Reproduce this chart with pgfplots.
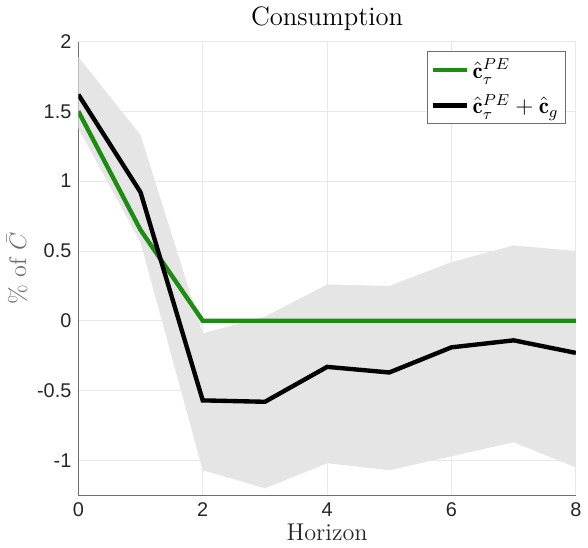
\documentclass[border=0pt]{standalone}
\usepackage{pgfplots}
\pgfplotsset{compat=1.18}
\usepackage{fontspec}
\newfontfamily\ticksf{Liberation Sans}
\definecolor{mygreen}{RGB}{30,140,20}
\definecolor{band}{RGB}{229,229,229}
\definecolor{axgray}{RGB}{110,110,110}
\definecolor{tickc}{RGB}{38,38,38}
\begin{document}
\begin{tikzpicture}
\begin{axis}[
  scale only axis,
  width=250.5pt, height=228.5pt,
  xmin=0, xmax=8, ymin=-1.25, ymax=2,
  xtick={0,2,4,6,8},
  ytick={-1,-0.5,0,0.5,1,1.5,2},
  yticklabels={-1,-0.5,0,0.5,1,1.5,2},
  xticklabels={0,2,4,6,8},
  ticklabel style={font=\ticksf\fontsize{10}{12}\selectfont, text=tickc},
  axis x line*=bottom, axis y line*=left,
  axis line style={axgray, -},
  major tick length=0pt,
  grid=major,
  major grid style={gray!18, line width=0.4pt},
  title={\fontsize{13.4}{15}\selectfont Consumption},
  title style={yshift=-4pt},
  xlabel={\fontsize{12.2}{14}\selectfont Horizon},
  ylabel={\fontsize{12.2}{14}\selectfont \% of $\bar{C}$},
  xlabel style={text=tickc, yshift=3pt},
  ylabel style={text=axgray, yshift=-2pt},
  legend style={at={(1,1)}, anchor=north east, xshift=-5pt, yshift=-5pt,
    draw=axgray, font=\fontsize{11.5}{13}\selectfont, row sep=2.5pt, inner sep=1.5pt},
  legend cell align=left,
  legend image post style={line width=2.2pt},
  legend image code/.code={\draw[#1] (0cm,0cm) -- (0.6cm,0cm);},
]
\addplot[fill=band, draw=none, forget plot] coordinates {
 (0,1.89) (1,1.33) (2,-0.09) (3,0.03) (4,0.26) (5,0.25) (6,0.42) (7,0.54) (8,0.50)
 (8,-1.05) (7,-0.87) (6,-0.97) (5,-1.07) (4,-1.02) (3,-1.20) (2,-1.07) (1,0.56) (0,1.38)
} -- cycle;
\addplot[mygreen, line width=2.2pt] coordinates {
 (0,1.50) (1,0.65) (2,0) (3,0) (4,0) (5,0) (6,0) (7,0) (8,0)
};
\addlegendentry{$\hat{\mathbf{c}}_\tau^{PE}$}
\addplot[black, line width=2.2pt] coordinates {
 (0,1.62) (1,0.92) (2,-0.57) (3,-0.58) (4,-0.33) (5,-0.37) (6,-0.19) (7,-0.14) (8,-0.23)
};
\addlegendentry{$\hat{\mathbf{c}}_\tau^{PE}+\hat{\mathbf{c}}_g$}
\end{axis}
\end{tikzpicture}
\end{document}
